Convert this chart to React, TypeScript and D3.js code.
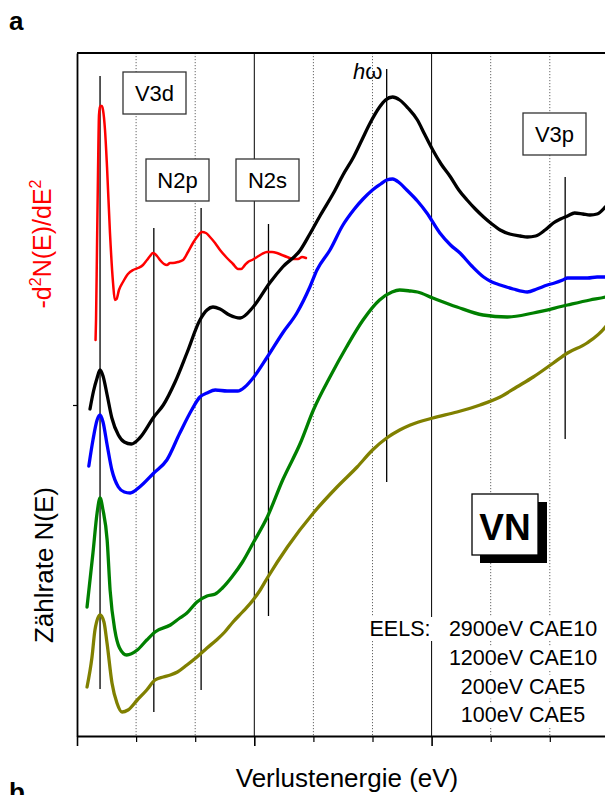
import React, { useEffect, useRef } from 'react';
import * as d3 from 'd3';

const W = 605;
const H = 795;
const FONT = "'Liberation Sans', Arial, sans-serif";

// x: loss energy (eV), y: arbitrary intensity units
const X_DOMAIN: [number, number] = [0, 45];
const Y_DOMAIN: [number, number] = [0, 68.3];
const MAJOR_TICKS = [0, 15, 30, 45];
const MINOR_TICKS = [5, 10, 20, 25, 35, 40];
const Y_TICKS = [33.1];

const deriv2900: [number, number][] = [
  [1.57, 39.6], [1.61, 41.6], [1.69, 48.6], [1.78, 56.6], [1.86, 62.1], [1.95, 63.0], [2.1, 63.0],
  [2.2, 62.6], [2.37, 60.6], [2.54, 56.9], [2.79, 50.3], [3.05, 45.3], [3.2, 43.6], [3.35, 43.7],
  [3.55, 44.6], [3.89, 45.4], [4.31, 46.2], [4.74, 46.6], [5.16, 46.8], [5.58, 47.1], [5.92, 47.6],
  [6.18, 48.0], [6.43, 48.3], [6.77, 48.0], [7.02, 47.6], [7.36, 47.2], [7.61, 47.1], [7.87, 47.3],
  [8.12, 47.3], [8.54, 47.4], [8.97, 47.6], [9.39, 48.4], [9.81, 49.3], [10.15, 49.9], [10.58, 50.4],
  [10.91, 50.3], [11.25, 49.9], [11.68, 49.3], [12.1, 48.6], [12.61, 47.9], [13.2, 47.2], [13.62, 46.7],
  [13.87, 46.7], [14.21, 47.1], [14.47, 47.4], [14.81, 47.6], [15.23, 47.9], [15.65, 48.2], [16.07, 48.4],
  [16.5, 48.4], [16.92, 48.3], [17.34, 48.1], [17.77, 47.9], [18.27, 47.7], [18.7, 47.7], [19.04, 47.9],
  [19.37, 47.8],
];

const eels2900: [number, number][] = [
  [1.1, 32.7], [1.4, 34.5], [1.7, 35.8], [1.95, 36.6], [2.2, 36.0], [2.55, 34.1], [2.95, 31.8],
  [3.5, 30.1], [4.0, 29.4], [4.6, 29.2], [5.3, 29.8], [6.5, 31.9], [7.3, 33.1], [8.3, 35.4],
  [9.3, 38.3], [10.4, 41.6], [11.0, 42.6], [11.5, 42.9], [12.1, 42.7], [12.9, 42.1], [13.8, 41.8],
  [14.9, 42.9], [16.3, 45.3], [17.4, 46.9], [18.9, 48.6], [19.7, 50.2], [20.6, 52.1], [21.7, 54.3],
  [22.5, 56.1], [23.4, 57.9], [24.1, 59.6], [24.8, 61.3], [25.6, 62.9],
  [26.1, 63.6], [26.7, 63.9], [27.3, 63.6], [28.0, 62.8], [28.8, 61.6], [29.4, 60.2], [30.1, 58.6],
  [30.8, 57.2], [31.6, 55.9], [32.3, 54.6], [33.0, 53.6], [33.7, 52.7], [34.4, 51.9], [35.1, 51.2],
  [35.8, 50.6], [36.6, 50.2], [37.5, 50.0], [38.1, 49.9], [38.8, 50.0], [39.6, 50.6], [40.3, 51.3],
  [40.9, 51.7], [41.5, 52.0], [42.1, 52.3], [42.8, 52.2], [43.4, 52.1], [44.0, 52.2], [44.7, 52.9],
  [45.0, 53.3],
];

const eels1200: [number, number][] = [
  [1.0, 27.0], [1.35, 29.6], [1.7, 31.6], [1.95, 32.1], [2.2, 31.4], [2.55, 29.1], [2.95, 26.6],
  [3.5, 24.9], [4.0, 24.4], [4.5, 24.3], [5.3, 24.9], [6.5, 26.3], [7.6, 27.6], [8.7, 30.3],
  [9.7, 32.6], [10.4, 33.9], [11.0, 34.3], [11.7, 34.6], [12.7, 34.5], [13.6, 34.5], [14.2, 34.9],
  [14.9, 35.8], [16.1, 37.9], [17.4, 40.3], [18.6, 42.3], [19.7, 44.9], [20.3, 46.6], [21.4, 48.6],
  [22.5, 51.1], [23.4, 52.6], [24.2, 53.7], [25.0, 54.6], [25.7, 55.2],
  [26.2, 55.6], [26.7, 55.7], [27.3, 55.3], [27.9, 54.6], [28.8, 53.5], [29.6, 52.3], [30.7, 50.3],
  [31.6, 49.1], [32.4, 48.3], [33.4, 47.0], [34.4, 45.9], [35.1, 45.4], [35.8, 45.1], [36.9, 44.7],
  [38.1, 44.4], [38.9, 44.7], [39.8, 45.1], [40.4, 45.3], [41.1, 45.6], [41.5, 45.8], [42.3, 45.8],
  [43.2, 45.8], [44.0, 45.9], [44.7, 45.9], [45.0, 46.0],
];

const eels200: [number, number][] = [
  [0.85, 12.9], [1.35, 18.3], [1.7, 22.3], [1.95, 23.8], [2.2, 22.6], [2.55, 19.6], [2.8, 14.6],
  [3.2, 10.6], [3.6, 8.8], [4.2, 8.1], [5.1, 8.6], [5.9, 9.6], [6.6, 10.4], [7.9, 11.1], [8.7, 11.8],
  [9.3, 12.3], [10.15, 13.4], [11.0, 14.0], [11.7, 14.2], [12.3, 14.8], [13.1, 15.9], [14.0, 17.4],
  [14.9, 19.3], [16.1, 21.9], [17.4, 25.6], [18.9, 29.3], [20.0, 32.6], [21.4, 35.9], [22.8, 38.9],
  [24.2, 41.6], [25.6, 43.6], [26.65, 44.4], [27.3, 44.6], [28.2, 44.5],
  [28.8, 44.4], [30.1, 43.8], [32.15, 42.9], [34.35, 42.1], [36.4, 41.9], [38.6, 42.3], [41.5, 43.1],
  [43.4, 43.6], [44.7, 43.9], [45.0, 44.0],
];

const eels100: [number, number][] = [
  [0.85, 4.9], [1.27, 7.9], [1.52, 10.6], [1.95, 12.1], [2.28, 11.4], [2.54, 9.3], [2.96, 5.3],
  [3.38, 3.3], [3.81, 2.4], [4.31, 2.6], [5.1, 3.6], [5.9, 4.6], [6.6, 5.6], [7.3, 5.9], [7.9, 6.1],
  [8.5, 6.4], [9.3, 7.1], [10.15, 7.9], [11.0, 8.8], [11.8, 9.6], [12.5, 10.4], [13.2, 11.4],
  [14.0, 12.4], [14.9, 13.6], [15.5, 14.6], [16.1, 15.8], [17.8, 18.9], [20.0, 22.3], [22.0, 24.9],
  [23.7, 26.9], [25.0, 28.6], [26.2, 29.8], [27.3, 30.6], [28.2, 31.1], [30.1, 31.8], [32.15, 32.4],
  [34.1, 33.1], [35.8, 33.9], [37.2, 34.9], [38.6, 35.9], [40.3, 37.3], [41.5, 38.3], [43.15, 39.3],
  [44.7, 40.9], [45.0, 41.4],
];

// peak markers: energy, vertical extent (intensity units)
const MARKER_E = [1.95, 6.5, 10.5, 16.2, 26.2, 41.3];
const MARKER_TOP = [66.0, 50.8, 52.8, 51.2, 66.7, 55.9];
const MARKER_BOTTOM = [4.7, 2.4, 4.6, 12.0, 25.4, 29.7];

const SERIES_COLORS = ['#ff0000', '#000000', '#0000ff', '#008000', '#808000'];
const LEGEND_LABELS = ['2900eV CAE10', '1200eV CAE10', '200eV CAE5', '100eV CAE5'];

export default function App() {
  const bottomRef = useRef<SVGGElement>(null);
  const bottomMinorRef = useRef<SVGGElement>(null);
  const leftRef = useRef<SVGGElement>(null);

  const left = 77;
  const top = 53;
  const bottom = 736;
  const right = 77 + 9 * 59.1;

  const x = d3.scaleLinear().domain(X_DOMAIN).range([left, right]);
  const y = d3.scaleLinear().domain(Y_DOMAIN).range([bottom, top]);

  const line = d3
    .line<[number, number]>()
    .x((d) => x(d[0]))
    .y((d) => y(d[1]))
    .curve(d3.curveMonotoneX);

  useEffect(() => {
    if (bottomRef.current) {
      const g = d3.select(bottomRef.current);
      g.call(d3.axisBottom(x).tickValues(MAJOR_TICKS).tickSize(10).tickFormat(() => '').tickSizeOuter(0));
      g.selectAll('path').attr('stroke', '#000').attr('stroke-width', 2);
      g.selectAll('line').attr('stroke', '#000').attr('stroke-width', 1.6);
    }
    if (bottomMinorRef.current) {
      const g = d3.select(bottomMinorRef.current);
      g.call(d3.axisBottom(x).tickValues(MINOR_TICKS).tickSize(6).tickFormat(() => '').tickSizeOuter(0));
      g.select('path').remove();
      g.selectAll('line').attr('stroke', '#000').attr('stroke-width', 1.2);
    }
    if (leftRef.current) {
      const g = d3.select(leftRef.current);
      g.call(d3.axisLeft(y).tickValues(Y_TICKS).tickSize(4).tickFormat(() => '').tickSizeOuter(0));
      g.selectAll('path').attr('stroke', '#000').attr('stroke-width', 1.8);
      g.selectAll('line').attr('stroke', '#000').attr('stroke-width', 1.2);
    }
  }, []);

  const series = [deriv2900, eels2900, eels1200, eels200, eels100];

  const boxes = [
    { label: 'V3d', x: 123, y: 72 },
    { label: 'N2p', x: 146, y: 159 },
    { label: 'N2s', x: 236, y: 159 },
    { label: 'V3p', x: 523, y: 113 },
  ];
  const boxW = 63;
  const boxH = 42;

  const legendCx = 523;
  const legendY0 = 636;
  const legendDy = 28.8;
  const legendWidths = [156, 156, 128, 128];

  return (
    <svg
      width={W}
      height={H}
      style={{ position: 'absolute', left: 0, top: 0, background: '#fff' }}
      fontFamily={FONT}
    >
      <rect x={0} y={0} width={W} height={H} fill="#fff" />

      {/* grid lines */}
      {MINOR_TICKS.map((t) => (
        <line key={'m' + t} x1={x(t)} x2={x(t)} y1={top} y2={bottom} stroke="#666" strokeWidth={1} strokeDasharray="1.2,1.8" />
      ))}
      {MAJOR_TICKS.filter((t) => t > 0 && t < 45).map((t) => (
        <line key={'M' + t} x1={x(t)} x2={x(t)} y1={top} y2={bottom} stroke="#000" strokeWidth={1} />
      ))}

      {/* peak markers */}
      {MARKER_E.map((e, i) => (
        <line key={'mk' + i} x1={x(e)} x2={x(e)} y1={y(MARKER_TOP[i])} y2={y(MARKER_BOTTOM[i])} stroke="#000" strokeWidth={1.3} />
      ))}

      {/* curves */}
      {series.map((s, i) => (
        <path
          key={'s' + i}
          d={line(s) || ''}
          fill="none"
          stroke={SERIES_COLORS[i]}
          strokeWidth={i === 0 ? 2.5 : 3.3}
          strokeLinejoin="round"
          strokeLinecap="round"
        />
      ))}

      {/* frame */}
      <line x1={left} x2={W} y1={top} y2={top} stroke="#000" strokeWidth={2} />
      <g ref={bottomRef} transform={`translate(0,${bottom})`} />
      <g ref={bottomMinorRef} transform={`translate(0,${bottom})`} />
      <g ref={leftRef} transform={`translate(${left},0)`} />

      {/* label boxes */}
      {boxes.map((b) => (
        <g key={b.label}>
          <rect x={b.x} y={b.y} width={boxW} height={boxH} fill="#fff" stroke="#333" strokeWidth={1.3} />
          <text x={b.x + boxW / 2} y={b.y + boxH / 2 + 8} textAnchor="middle" fontSize={22} fill="#000">
            {b.label}
          </text>
        </g>
      ))}

      <text x={353} y={79} fontSize={22} fill="#000">
        <tspan fontStyle="italic">h</tspan>ω
      </text>

      {/* VN box */}
      <rect x={480} y={502} width={67} height={61} fill="#000" />
      <rect x={472} y={494} width={66} height={61} fill="#fff" stroke="#000" strokeWidth={1.3} />
      <text x={505} y={540} textAnchor="middle" fontSize={37} fontWeight="bold" fill="#000">
        VN
      </text>

      {/* legend text */}
      <rect x={367} y={legendY0 - 19} width={68} height={24} fill="#fff" />
      <text x={400} y={legendY0} textAnchor="middle" fontSize={21.5} fill="#000">
        EELS:
      </text>
      {LEGEND_LABELS.map((l, i) => (
        <g key={l}>
          <rect
            x={legendCx - legendWidths[i] / 2}
            y={legendY0 + i * legendDy - 19}
            width={legendWidths[i]}
            height={24}
            fill="#fff"
          />
          <text x={legendCx} y={legendY0 + i * legendDy} textAnchor="middle" fontSize={21.5} fill="#000">
            {l}
          </text>
        </g>
      ))}

      {/* axis titles */}
      <text x={(233 + 461) / 2} y={787} textAnchor="middle" fontSize={26} fill="#000">
        Verlustenergie (eV)
      </text>
      <text transform="translate(53,565) rotate(-90)" textAnchor="middle" fontSize={26} fill="#000">
        Zählrate N(E)
      </text>
      <text transform="translate(51,244) rotate(-90)" textAnchor="middle" fontSize={25} fill="#ff0000">
        -d
        <tspan fontSize={16} dy={-10}>2</tspan>
        <tspan dy={10}>N(E)/dE</tspan>
        <tspan fontSize={16} dy={-10}>2</tspan>
      </text>

      {/* panel letters */}
      <text x={9} y={30} fontSize={26} fontWeight="bold" fill="#000">
        a
      </text>
      <text x={9} y={801} fontSize={26} fontWeight="bold" fill="#000">
        b
      </text>
    </svg>
  );
}
